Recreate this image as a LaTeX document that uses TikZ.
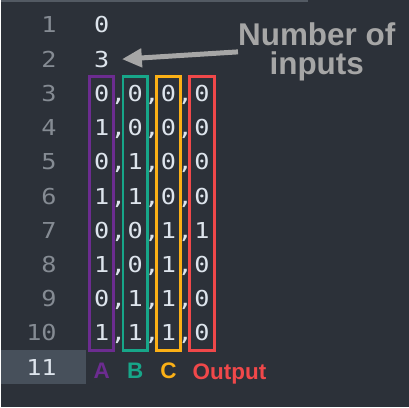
\documentclass[tikz,border=0pt]{standalone}
\usepackage{fontspec}
\setmonofont[FakeStretch=1.15]{DejaVu Sans Mono}
\setsansfont{Liberation Sans}
\usepackage{tikz}
\usetikzlibrary{positioning,fit,arrows.meta}

\definecolor{editorbg}{HTML}{2C3139}
\definecolor{rulegray}{HTML}{535A63}
\definecolor{curline}{HTML}{47505B}
\definecolor{numfg}{HTML}{858B93}
\definecolor{codefg}{HTML}{DDE4EC}
\definecolor{notegray}{HTML}{A6A6A6}
\definecolor{colA}{HTML}{6C2C90}
\definecolor{colB}{HTML}{17A689}
\definecolor{colC}{HTML}{FBB016}
\definecolor{colO}{HTML}{F0484A}

\begin{document}
\begin{tikzpicture}[x=1pt,y=-1pt,node distance=16.75pt,on grid,
    code/.style={font=\ttfamily\fontsize{22}{22}\selectfont,text=codefg,inner sep=0pt,
      text height=16pt,text depth=0pt,minimum width=24pt,minimum height=34.3pt},
    num/.style={code,text=numfg,anchor=east,minimum width=0pt},
    colbox/.style={draw=#1,line width=3pt,inner sep=0pt},
    colname/.style={font=\sffamily\bfseries\fontsize{22.5}{22.5}\selectfont,inner sep=0pt,
      text height=16pt,text depth=0pt},
    note/.style={font=\sffamily\bfseries\fontsize{31.5}{30}\selectfont,text=notegray,
      align=center,inner sep=0pt},
    pointer/.style={draw=notegray,line width=5pt,-{Triangle[length=20pt,width=18pt]}}]
    % editor
    \fill[editorbg] (0,0) rectangle (409,408);
    \draw[rulegray,line width=2pt] (0,1) -- (308,1);
    \fill[curline] (0,350.9) rectangle (85,385.2);
    % line numbers
    \foreach \i in {1,...,10}
        \node[num] (n_\i) at (56,{25+34.3*(\i-1)}) {\i};
    \node[num,text=codefg] (n_11) at (56,368) {11};
    % lines 1 and 2
    \node[code] (l_1) at (101,25) {0};
    \node[code] (l_2) at (101,59.3) {3};
    % truth table
    \foreach \r/\a/\b/\c/\o in {3/0/0/0/0,4/1/0/0/0,5/0/1/0/0,6/1/1/0/0,
                                7/0/0/1/1,8/1/0/1/0,9/0/1/1/0,10/1/1/1/0} {
        \node[code] (a_\r) at (101,{25+34.3*(\r-1)}) {\a};
        \node[code] (k_\r_1) [right=of a_\r] {,};
        \node[code] (b_\r) [right=of k_\r_1] {\b};
        \node[code] (k_\r_2) [right=of b_\r] {,};
        \node[code] (c_\r) [right=of k_\r_2] {\c};
        \node[code] (k_\r_3) [right=of c_\r] {,};
        \node[code] (o_\r) [right=of k_\r_3] {\o};
    }
    \node[colbox=colA,fit=(a_3)(a_10)] (box_a) {};
    \node[colbox=colB,fit=(b_3)(b_10)] (box_b) {};
    \node[colbox=colC,fit=(c_3)(c_10)] (box_c) {};
    \node[colbox=colO,fit=(o_3)(o_10)] (box_o) {};
    % column names
    \node[colname,text=colA] (name_a) [below=38pt of a_10] {A};
    \node[colname,text=colB] (name_b) [below=38pt of b_10] {B};
    \node[colname,text=colC] (name_c) [below=38pt of c_10] {C};
    \node[colname,text=colO,anchor=west] (name_o) at (192,372) {Output};
    % note
    \node[note] (inputs) at (316.5,52) {Number of\\inputs};
    \draw[pointer] (inputs.west) -- ([xshift=8pt]l_2.east);
\end{tikzpicture}
\end{document}
